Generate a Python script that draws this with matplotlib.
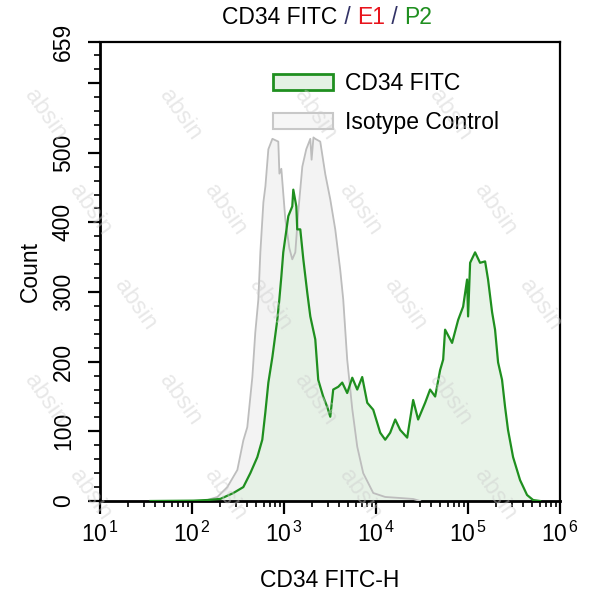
import numpy as np
import matplotlib
matplotlib.use("Agg")
import matplotlib.pyplot as plt
from matplotlib.patches import Patch
from matplotlib.ticker import FixedLocator, MultipleLocator, LogLocator, NullFormatter

plt.rcParams['font.family'] = ['Liberation Sans', 'DejaVu Sans']
plt.rcParams['mathtext.fontset'] = 'custom'
plt.rcParams['mathtext.rm'] = 'Liberation Sans'
plt.rcParams['mathtext.it'] = 'Liberation Sans'

# ---- data (log10 of CD34 FITC-H, counts) ----
iso_logx = [2.091, 2.167, 2.276, 2.384, 2.493, 2.558, 2.601, 2.656, 2.688, 2.721, 2.743,
            2.776, 2.798, 2.830, 2.874, 2.938, 2.950, 2.971, 3.014, 3.058, 3.090, 3.123,
            3.155, 3.199, 3.242, 3.286, 3.300, 3.320, 3.340, 3.394, 3.449, 3.503, 3.557,
            3.611, 3.644, 3.687, 3.742, 3.796, 3.861, 3.970, 4.100, 4.263, 4.404, 4.480]
iso_count = [0, 1.4, 5.8, 20, 44.6, 87, 106, 178, 242, 289, 357,
             429, 452, 505, 520, 516, 470, 477, 405, 363, 347, 357,
             415, 480, 505, 520, 490, 522, 520, 516, 469, 433, 390,
             332, 289, 203, 132, 78, 40, 11.5, 5.8, 4.3, 2.9, 0]

cd34_logx = [1.548, 2.015, 2.167, 2.308, 2.450, 2.558, 2.634, 2.710, 2.764, 2.797, 2.830,
             2.874, 2.927, 2.949, 2.971, 2.992, 3.047, 3.090, 3.101, 3.134, 3.144, 3.177,
             3.210, 3.253, 3.286, 3.340, 3.372, 3.426, 3.470, 3.503, 3.535, 3.590, 3.633,
             3.687, 3.742, 3.796, 3.850, 3.905, 3.970, 4.046, 4.100, 4.122, 4.154, 4.209,
             4.263, 4.339, 4.404, 4.458, 4.534, 4.588, 4.643, 4.697, 4.730, 4.751, 4.827,
             4.893, 4.947, 4.990, 5.001, 5.023, 5.077, 5.131, 5.186, 5.218, 5.262, 5.294,
             5.327, 5.370, 5.403, 5.435, 5.490, 5.566, 5.642, 5.708, 5.783]
cd34_count = [0, 0.5, 1.4, 3, 11.5, 20, 40, 63, 88, 127, 170,
              207, 260, 289, 322, 357, 409, 423, 447, 423, 390, 390,
              347, 299, 265, 232, 174, 150, 135, 121, 160, 164, 170,
              155, 177, 160, 178, 141, 131, 98, 88, 92, 98, 117,
              102, 91, 145, 117, 141, 160, 150, 188, 203, 246, 227,
              260, 279, 318, 265, 342, 357, 342, 344, 318, 271, 246,
              199, 174, 135, 102, 63, 30, 8.6, 1.4, 0]

series_labels = ["CD34 FITC", "Isotype Control"]
x_tick_exps = [1, 2, 3, 4, 5, 6]
y_ticks = [0, 100, 200, 300, 400, 500, 600, 659]
y_tick_labels = ["0", "100", "200", "300", "400", "500", "", "659"]

W, H = 593, 600
FS = 16.5
fig = plt.figure(figsize=(W / 100, H / 100), dpi=100)
ax = fig.add_axes([100 / W, 1 - 501 / H, 460 / W, 459 / H])

ix = 10 ** np.array(iso_logx)
cx = 10 ** np.array(cd34_logx)
gray_line = '#bdbdbd'
gray_fill = '#f3f3f3'
green_line = '#1f8f1f'
green_fill = '#e4f1e4'

ax.fill_between(ix, iso_count, 0, color=gray_fill, lw=0, zorder=1)
ax.fill_between(cx, cd34_count, 0, color=green_fill, alpha=0.85, lw=0, zorder=2)
ax.plot(ix, iso_count, color=gray_line, lw=1.3, zorder=3)
ax.plot(cx, cd34_count, color=green_line, lw=1.6, zorder=4)

ax.set_xscale('log')
ax.set_xlim(10, 1e6)
ax.set_ylim(0, 659)
ax.set_xticks([10.0 ** e for e in x_tick_exps])
ax.set_xticklabels([r'$\mathregular{10^{\,%d}}$' % e for e in x_tick_exps])
ax.xaxis.set_minor_locator(LogLocator(base=10, subs=np.arange(2, 10)))
ax.xaxis.set_minor_formatter(NullFormatter())
ax.yaxis.set_major_locator(FixedLocator(y_ticks))
ax.set_yticklabels(y_tick_labels, rotation=90, va='center')
ax.yaxis.set_minor_locator(MultipleLocator(20))

for s in ax.spines.values():
    s.set_linewidth(1.6)
ax.spines['left'].set_linewidth(2)
ax.spines['bottom'].set_linewidth(2)
ax.tick_params(axis='both', which='major', length=9, width=1.6, labelsize=FS, color='black')
ax.tick_params(axis='both', which='minor', length=4, width=1.2)
ax.tick_params(axis='x', which='major', pad=6)
ax.tick_params(axis='y', which='major', pad=9)

ax.set_xlabel("CD34 FITC-H", fontsize=FS, labelpad=16)
ax.set_ylabel("Count", fontsize=FS, labelpad=7)

# title with coloured parts
parts = [("CD34 FITC", "black"), (" / ", "#333366"), ("E1", "#e8141c"), (" / ", "#333366"), ("P2", "#1f8f1f")]
fig.canvas.draw()
r = fig.canvas.get_renderer()
texts = []
total = 0
for s, c in parts:
    t = fig.text(0, 1 - 18 / H, s, color=c, fontsize=FS, va='center', ha='left')
    w = t.get_window_extent(r).width
    texts.append((t, w))
    total += w
x0 = 327 - total / 2
for t, w in texts:
    t.set_x(x0 / W)
    x0 += w

handles = [Patch(facecolor=green_fill, edgecolor=green_line, lw=2),
           Patch(facecolor='#f6f6f6', edgecolor='#c8c8c8', lw=1.5)]
ax.legend(handles, series_labels, loc='upper left', bbox_to_anchor=(273 / W, 1 - 72 / H),
          bbox_transform=fig.transFigure, frameon=False, fontsize=FS,
          handlelength=2.6, handleheight=0.7, handletextpad=0.55, labelspacing=0.7,
          borderaxespad=0, borderpad=0)

# watermark (kept fully inside the picture)
wm_color = (0.80, 0.80, 0.80, 0.45)
for row in range(-2, 9):
    for col in range(-2, 7):
        px = col * 135 + row * 45
        py = row * 95 + 20
        t = fig.text(px / W, 1 - py / H, "absin", color=wm_color, fontsize=17,
                     rotation=-55, ha='center', va='center', zorder=10)
        bb = t.get_window_extent(r)
        if bb.x0 < 2 or bb.y0 < 2 or bb.x1 > W - 2 or bb.y1 > H - 2:
            t.remove()

fig.savefig("out.png", dpi=100)
